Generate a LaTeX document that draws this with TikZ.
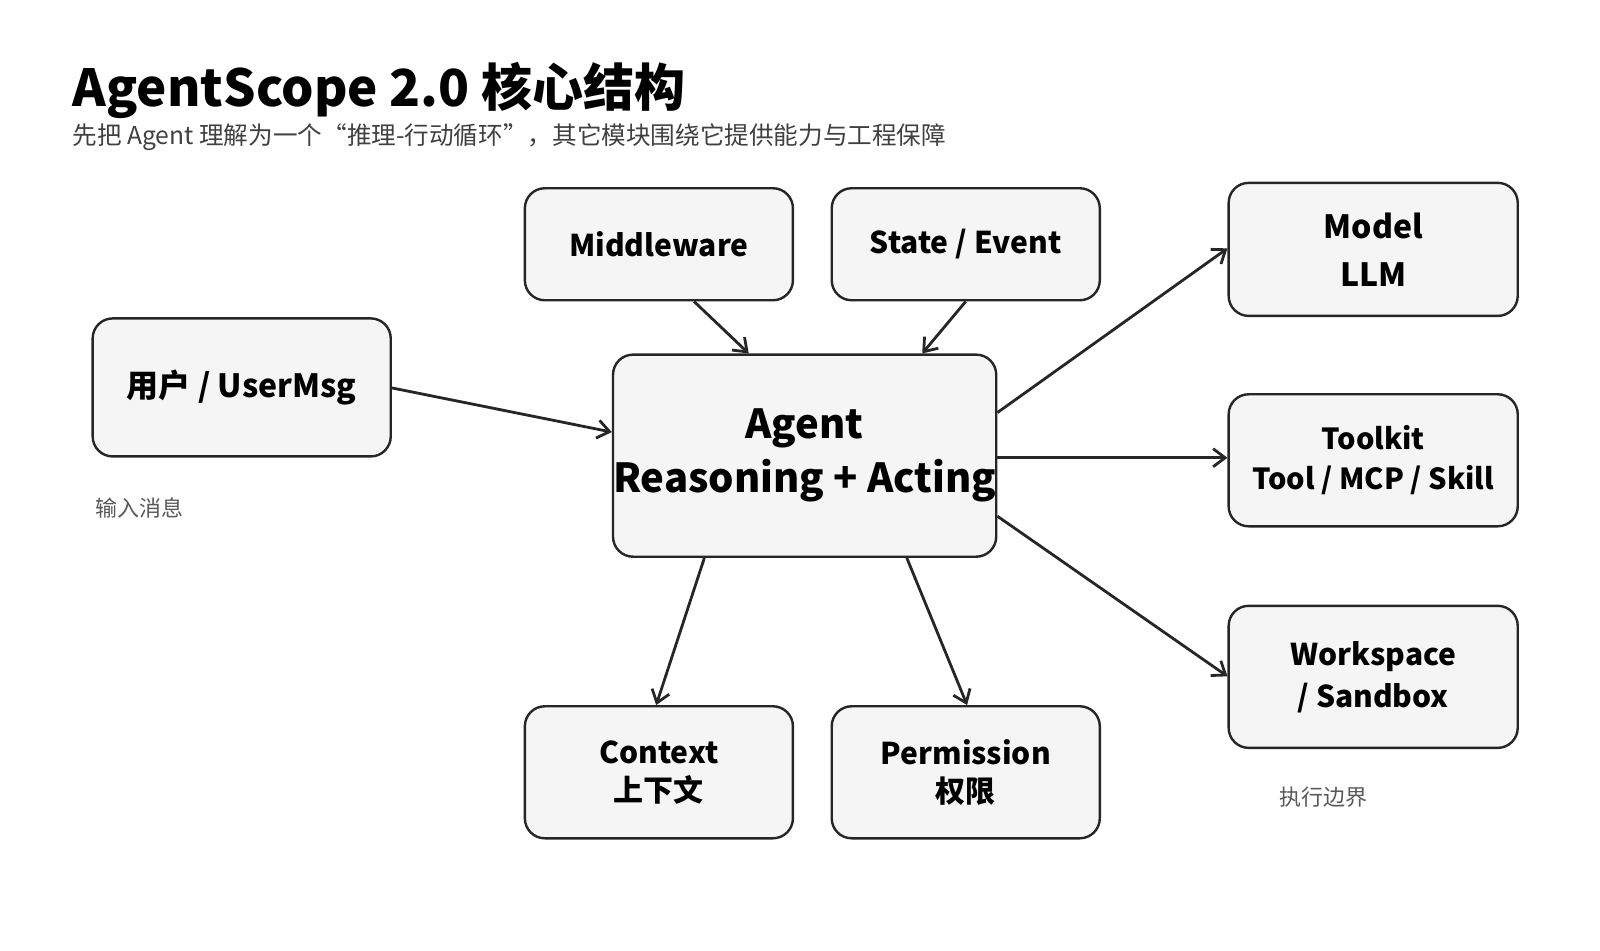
\documentclass[tikz,border=0pt]{standalone}
\usepackage{fontspec}
\setmainfont{Noto Sans CJK SC}
\usetikzlibrary{arrows.meta,calc}
\begin{document}
\begin{tikzpicture}[x=0.513pt,y=-0.513pt,
 box/.style={draw=black!85,line width=1.2pt,fill=black!4,rounded corners=10pt,align=center,font=\fontsize{15}{19}\selectfont\bfseries,inner sep=0pt},
 arr/.style={draw=black!85,line width=1.4pt,-{Straight Barb[length=6pt,width=9pt]}},
 note/.style={font=\fontsize{11}{13}\selectfont,text=black!65,anchor=west}]
\useasboundingbox (0,0) rectangle (1559,926);
\node[anchor=west,font=\fontsize{25.5}{30}\selectfont\bfseries] (title) at (64,88) {AgentScope 2.0 核心结构};
\node[anchor=west,font=\fontsize{12.3}{14}\selectfont,text=black!75] (sub) at (64,134) {先把 Agent 理解为一个“推理-行动循环”，其它模块围绕它提供能力与工程保障};
\node[box,minimum width=134pt,minimum height=56pt] (mw) at (642,238) {Middleware};
\node[box,minimum width=134pt,minimum height=56pt] (se) at (941,238) {State / Event};
\node[box,minimum width=149pt,minimum height=69pt,font=\fontsize{16}{20}\selectfont\bfseries] (user) at (235.5,377.5) {用户 / UserMsg};
\node[box,minimum width=190pt,minimum height=101pt,font=\fontsize{20}{27}\selectfont\bfseries] (agent) at (784,444) {Agent\\Reasoning + Acting};
\node[box,minimum width=144.5pt,minimum height=66.5pt,font=\fontsize{16}{24}\selectfont\bfseries] (model) at (1338,243) {Model\\LLM};
\node[box,minimum width=144.5pt,minimum height=66pt,font=\fontsize{14.5}{20}\selectfont\bfseries] (tool) at (1338,448.5) {Toolkit\\Tool / MCP / Skill};
\node[box,minimum width=144.5pt,minimum height=71pt,font=\fontsize{15}{21}\selectfont\bfseries] (ws) at (1338,659.5) {Workspace\\/ Sandbox};
\node[box,minimum width=134pt,minimum height=66pt] (ctx) at (642,752.5) {Context\\上下文};
\node[box,minimum width=134pt,minimum height=66pt] (perm) at (941,752.5) {Permission\\权限};
\node[note] (c1) at (86,495) {输入消息};
\node[note] (c2) at (1240,777) {执行边界};
\draw[arr] ($(mw.south west)!0.63!(mw.south east)$) -- ($(agent.north west)!0.355!(agent.north east)$);
\draw[arr] ($(se.south west)!0.5!(se.south east)$) -- ($(agent.north west)!0.805!(agent.north east)$);
\draw[arr] (user.east |- 0,378) -- (agent.west |- 0,421);
\draw[arr] (agent.east |- 0,402) -- (model.west |- 0,242);
\draw[arr] (agent.east |- 0,446) -- (tool.west |- 0,446);
\draw[arr] (agent.east |- 0,503) -- (ws.west |- 0,659);
\draw[arr] ($(agent.south west)!0.24!(agent.south east)$) -- ($(ctx.north west)!0.49!(ctx.north east)$);
\draw[arr] ($(agent.south west)!0.765!(agent.south east)$) -- ($(perm.north west)!0.505!(perm.north east)$);
\end{tikzpicture}
\end{document}
